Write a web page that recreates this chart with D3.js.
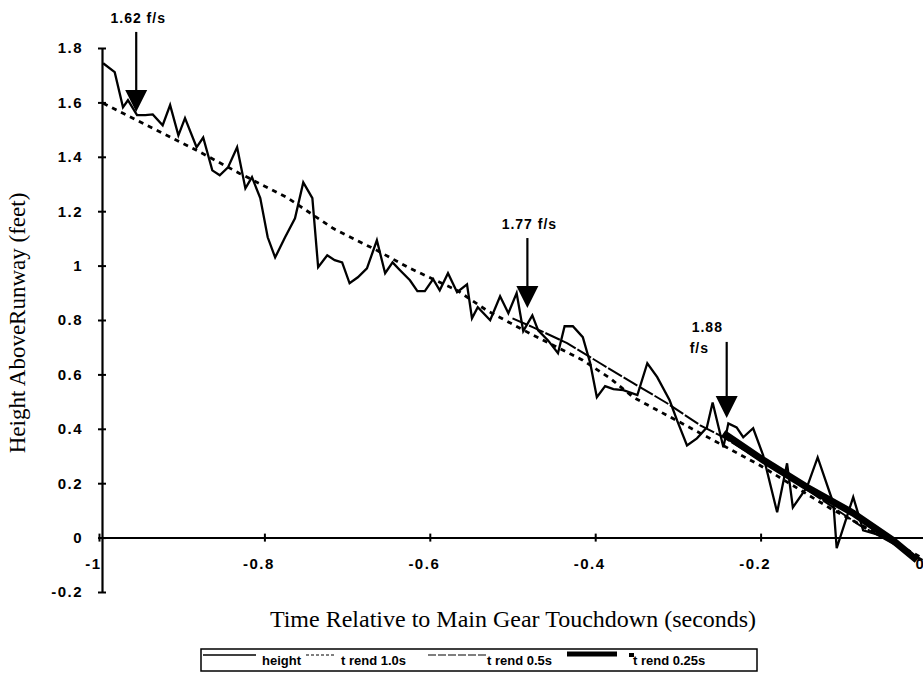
<!DOCTYPE html>
<html>
<head>
<meta charset="utf-8">
<script src="https://cdn.jsdelivr.net/npm/d3@7"></script>
<style>
  body { margin: 0; background: #fff; }
  .axis text, .note, .legend text {
    font-family: "Liberation Sans", Arial, sans-serif;
    font-weight: bold;
    font-size: 15px;
    fill: #000;
  }
  .title { font-family: "Liberation Serif", "Times New Roman", serif; fill: #000; }
</style>
</head>
<body>
<svg id="chart" width="923" height="682"></svg>
<script>
// time (s) relative to main gear touchdown, and measured height (ft)
const times = [-0.995, -0.981, -0.971, -0.965, -0.954, -0.944, -0.935, -0.923, -0.914, -0.904,
  -0.896, -0.882, -0.874, -0.863, -0.854, -0.844, -0.833, -0.823, -0.815, -0.805,
  -0.796, -0.787, -0.775, -0.763, -0.753, -0.742, -0.735, -0.724, -0.715, -0.706,
  -0.697, -0.687, -0.676, -0.664, -0.654, -0.645, -0.636, -0.624, -0.615, -0.606,
  -0.596, -0.588, -0.578, -0.567, -0.555, -0.549, -0.542, -0.527, -0.515, -0.505,
  -0.495, -0.487, -0.476, -0.469, -0.457, -0.445, -0.437, -0.427, -0.415, -0.406,
  -0.398, -0.388, -0.378, -0.366, -0.349, -0.337, -0.325, -0.310, -0.301, -0.289,
  -0.277, -0.265, -0.258, -0.245, -0.239, -0.229, -0.221, -0.209, -0.197, -0.180,
  -0.168, -0.161, -0.144, -0.131, -0.112, -0.108, -0.088, -0.076, -0.056, -0.031, -0.007];
const height = [1.744, 1.711, 1.582, 1.608, 1.553, 1.553, 1.556, 1.516, 1.590, 1.479,
  1.542, 1.435, 1.471, 1.350, 1.332, 1.361, 1.435, 1.284, 1.325, 1.248,
  1.104, 1.030, 1.104, 1.174, 1.306, 1.248, 0.994, 1.038, 1.020, 1.012,
  0.935, 0.957, 0.990, 1.093, 0.972, 1.012, 0.983, 0.946, 0.906, 0.906,
  0.950, 0.909, 0.972, 0.902, 0.931, 0.806, 0.847, 0.799, 0.887, 0.825,
  0.899, 0.759, 0.817, 0.762, 0.725, 0.678, 0.777, 0.777, 0.737, 0.641,
  0.516, 0.557, 0.546, 0.542, 0.524, 0.641, 0.590, 0.505, 0.431, 0.339,
  0.365, 0.405, 0.497, 0.332, 0.420, 0.405, 0.369, 0.402, 0.303, 0.093,
  0.273, 0.111, 0.185, 0.295, 0.126, -0.039, 0.149, 0.027, 0.009, -0.028, -0.083];

// trend lines
const trend10Times = [-0.995, -0.882, -0.830, -0.773, -0.717, -0.664, -0.624, -0.567, -0.531, -0.475,
  -0.415, -0.382, -0.354, -0.273, -0.201, -0.116, -0.004];
const trend10 = [1.597, 1.424, 1.339, 1.251, 1.137, 1.056, 0.990, 0.909, 0.835, 0.744,
  0.652, 0.586, 0.516, 0.384, 0.266, 0.108, -0.076];
const trend05Times = [-0.5, -0.475, -0.434, -0.394, -0.354, -0.313, -0.273, -0.245, -0.152, -0.080, -0.004];
const trend05 = [0.806, 0.773, 0.715, 0.641, 0.568, 0.494, 0.413, 0.369, 0.193, 0.045, -0.082];
const trend025Times = [-0.245, -0.197, -0.144, -0.088, -0.040, -0.011];
const trend025 = [0.384, 0.285, 0.185, 0.090, -0.010, -0.083];

// sink-rate arrows
const arrowTimes = [-0.955, -0.482, -0.241];
const arrowHeights = [1.565, 0.844, 0.440];
const arrowLabels = [["1.62 f/s"], ["1.77 f/s"], ["1.88", "f/s"]];

// ticks
const xTicks = [-1, -0.8, -0.6, -0.4, -0.2, 0];
const xTickLabels = ["-1", "-0.8", "-0.6", "-0.4", "-0.2", "0"];
const yTicks = [-0.2, 0, 0.2, 0.4, 0.6, 0.8, 1, 1.2, 1.4, 1.6, 1.8];
const yTickLabels = ["-0.2", "0", "0.2", "0.4", "0.6", "0.8", "1", "1.2", "1.4", "1.6", "1.8"];

const legendLabels = ["height", "t rend 1.0s", "t rend 0.5s", "t rend 0.25s"];

const svg = d3.select("#chart");

const x = d3.scaleLinear().domain([-1, 0]).range([99, 926]);
const y = d3.scaleLinear().domain([-0.2, 1.8]).range([592, 48]);

// y axis
svg.append("g")
  .attr("class", "axis")
  .attr("transform", `translate(${x(-1) + 3}, 0)`)
  .call(d3.axisLeft(y).tickValues(yTicks).tickFormat((d, i) => yTickLabels[i]).tickSizeOuter(0).tickPadding(13))
  .call(g => g.select(".domain").attr("stroke-width", 2.2))
  .call(g => g.selectAll(".tick line").attr("x1", -4).attr("x2", 4).attr("stroke-width", 2))
  .call(g => g.selectAll(".tick text").style("letter-spacing", "1.5px"));

// x axis
svg.append("g")
  .attr("class", "axis")
  .attr("transform", `translate(0, ${y(0)})`)
  .call(d3.axisBottom(x).tickValues(xTicks).tickFormat((d, i) => xTickLabels[i]).tickSizeOuter(0))
  .call(g => g.select(".domain").attr("stroke-width", 2))
  .call(g => g.selectAll(".tick line").attr("y1", -4).attr("y2", 4).attr("stroke-width", 2))
  .call(g => g.selectAll(".tick text").attr("y", 21).attr("dx", -6).style("letter-spacing", "1.5px"));

const line = d3.line().x(d => x(d[0])).y(d => y(d[1]));

// trend 1.0s
svg.append("path")
  .datum(d3.zip(trend10Times, trend10))
  .attr("d", line)
  .attr("fill", "none")
  .attr("stroke", "#000")
  .attr("stroke-width", 2.8)
  .attr("stroke-dasharray", "5,5");

// trend 0.5s
svg.append("path")
  .datum(d3.zip(trend05Times, trend05))
  .attr("d", line)
  .attr("fill", "none")
  .attr("stroke", "#000")
  .attr("stroke-width", 2)
  .attr("stroke-dasharray", "16,2");

// height
svg.append("path")
  .datum(d3.zip(times, height))
  .attr("d", line)
  .attr("fill", "none")
  .attr("stroke", "#000")
  .attr("stroke-width", 2.3)
  .attr("stroke-linejoin", "miter");

// trend 0.25s
svg.append("path")
  .datum(d3.zip(trend025Times, trend025))
  .attr("d", line)
  .attr("fill", "none")
  .attr("stroke", "#000")
  .attr("stroke-width", 7);

// arrows
const arrows = svg.append("g");
arrowTimes.forEach((t, i) => {
  const ax = x(t);
  const ay = y(arrowHeights[i]);
  const len = [80, 70, 76][i];
  arrows.append("line")
    .attr("x1", ax).attr("x2", ax)
    .attr("y1", ay - len).attr("y2", ay - 18)
    .attr("stroke", "#000").attr("stroke-width", 2.2);
  arrows.append("path")
    .attr("d", `M${ax - 11},${ay - 22}L${ax + 11},${ay - 22}L${ax},${ay}Z`)
    .attr("fill", "#000");
  const lab = arrowLabels[i];
  if (lab.length === 1) {
    arrows.append("text")
      .attr("class", "note")
      .attr("x", ax + 2).attr("y", ay - len - 9)
      .attr("text-anchor", "middle")
      .style("font-size", "14px")
      .style("letter-spacing", "1px")
      .text(lab[0]);
  } else {
    lab.forEach((s, j) => {
      arrows.append("text")
        .attr("class", "note")
        .attr("x", ax - 35 + (j ? -2 : 0)).attr("y", ay - len - 10 + j * 21)
        .style("font-size", "14px")
        .style("letter-spacing", "1px")
        .text(s);
    });
  }
});

// axis titles
svg.append("text")
  .attr("class", "title")
  .attr("transform", `translate(25, ${(y(1.8) + y(-0.2)) / 2 + 3}) rotate(-90)`)
  .attr("text-anchor", "middle")
  .style("font-size", "23px")
  .text("Height AboveRunway (feet)");

svg.append("text")
  .attr("class", "title")
  .attr("x", 513)
  .attr("y", 627)
  .attr("text-anchor", "middle")
  .style("font-size", "24px")
  .text("Time Relative to Main Gear Touchdown (seconds)");

// legend
const legend = svg.append("g").attr("class", "legend");
const legendTop = 649;
legend.append("rect")
  .attr("x", 201).attr("y", legendTop)
  .attr("width", 556).attr("height", 22)
  .attr("fill", "none")
  .attr("stroke", "#000")
  .attr("stroke-width", 1.5);

const ly = legendTop + 6;
legend.append("line").attr("x1", 203).attr("x2", 256).attr("y1", ly).attr("y2", ly)
  .attr("stroke", "#000").attr("stroke-width", 1.5);
legend.append("line").attr("x1", 306).attr("x2", 334).attr("y1", ly).attr("y2", ly)
  .attr("stroke", "#000").attr("stroke-width", 1.2).attr("stroke-dasharray", "3,2");
legend.append("line").attr("x1", 428).attr("x2", 486).attr("y1", ly).attr("y2", ly)
  .attr("stroke", "#000").attr("stroke-width", 1.2).attr("stroke-dasharray", "8,2");
legend.append("line").attr("x1", 567).attr("x2", 617).attr("y1", ly - 1).attr("y2", ly - 1)
  .attr("stroke", "#000").attr("stroke-width", 5);
legend.append("rect").attr("x", 629).attr("y", ly - 2).attr("width", 5).attr("height", 4).attr("fill", "#000");

const legendX = [262, 341, 487, 633];
legendLabels.forEach((s, i) => {
  legend.append("text")
    .attr("x", legendX[i]).attr("y", legendTop + 16)
    .style("font-size", "13px")
    .text(s);
});
</script>
</body>
</html>
